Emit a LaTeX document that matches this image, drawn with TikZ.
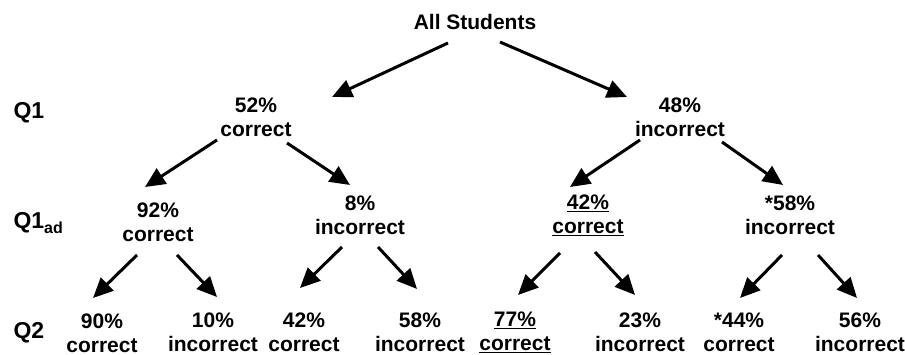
\documentclass[tikz,border=0pt]{standalone}
\usepackage{fontspec}
\setmainfont{Liberation Sans}
\usetikzlibrary{arrows.meta}
\begin{document}
\begin{tikzpicture}[x=1pt, y=-1pt, line width=3pt, >={Triangle[length=20pt,width=18pt]},
pct node/.style={align=center, inner sep=0pt, font=\bfseries\fontsize{21}{24}\selectfont},
q label/.style={anchor=west, inner sep=0pt, font=\bfseries\fontsize{23}{26}\selectfont}]%
\useasboundingbox (0,0) rectangle (905,355);
\begin{scope}[every node/.style={pct node}]
\node (all) at (475,22) {All Students};
\node (c1) at (256,117) {52\%\\correct};
\node (i1) at (680,117) {48\%\\incorrect};
\node (cc) at (158,222) {92\%\\correct};
\node (ci) at (360,215) {8\%\\incorrect};
\node (ic) at (588,215) {\underline{42\%}\\\underline{correct}};
\node (ii) at (790,215) {*58\%\\incorrect};
\node (ccc) at (102,333) {90\%\\correct};
\node (cci) at (213,332) {10\%\\incorrect};
\node (cic) at (304,332) {42\%\\correct};
\node (cii) at (420,332) {58\%\\incorrect};
\node (icc) at (515,332) {\underline{77\%}\\\underline{correct}};
\node (ici) at (640,332) {23\%\\incorrect};
\node (iic) at (739,332) {*44\%\\correct};
\node (iii) at (860,332) {56\%\\incorrect};
%\node (x) at (,) {};
\end{scope}
\begin{scope}[every node/.style={q label}]
\node (q1) at (12,113) {Q1};
\node (q1ad) at (12,223) {Q1\raisebox{-5pt}{\fontsize{16}{16}\selectfont ad}};
\node (q2) at (12,333) {Q2};
\end{scope}
\begin{scope}[->]
\draw ([shift={(-27,21)}]all.center) -- ([shift={(76,-20)}]c1.center);
\draw ([shift={(25,20)}]all.center) -- ([shift={(-53,-20)}]i1.center);
\draw ([shift={(-39,23)}]c1.center) -- ([shift={(-13,-35)}]cc.center);
\draw ([shift={(31,26)}]c1.center) -- ([shift={(-10,-30)}]ci.center);
\draw ([shift={(-40,23)}]i1.center) -- ([shift={(-18,-28)}]ic.center);
\draw ([shift={(42,25)}]i1.center) -- ([shift={(-7,-30)}]ii.center);
\draw ([shift={(-21,33)}]cc.center) -- ([shift={(-9,-35)}]ccc.center);
\draw ([shift={(19,33)}]cc.center) -- ([shift={(4,-35)}]cci.center);
\draw ([shift={(-18,32)}]ci.center) -- ([shift={(-4,-44)}]cic.center);
\draw ([shift={(18,32)}]ci.center) -- ([shift={(-3,-43)}]cii.center);
\draw ([shift={(-28,38)}]ic.center) -- ([shift={(3,-37)}]icc.center);
\draw ([shift={(7,37)}]ic.center) -- ([shift={(-5,-37)}]ici.center);
\draw ([shift={(-8,40)}]ii.center) -- ([shift={(1,-34)}]iic.center);
\draw ([shift={(28,40)}]ii.center) -- ([shift={(-3,-34)}]iii.center);
%\draw (x) -- (y);
\end{scope}
\end{tikzpicture}
\end{document}
